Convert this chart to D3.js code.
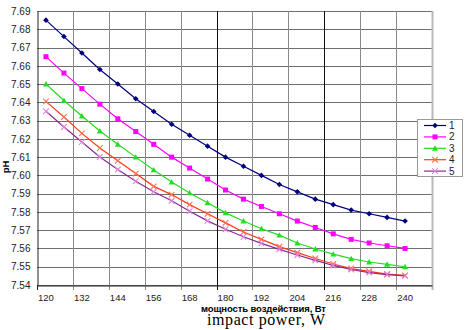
<!DOCTYPE html>
<html>
<head>
<meta charset="utf-8">
<script src="https://cdn.jsdelivr.net/npm/d3@7"></script>
<style>
  body { margin: 0; background: #fff; }
  svg { display: block; font-family: "Liberation Sans", Arial, sans-serif; }
</style>
</head>
<body>
<svg width="465" height="330"></svg>
<script>
// categories on the x axis (last slot is empty, as in the original)
const categories = [120, 126, 132, 138, 144, 150, 156, 162, 168, 174, 180,
    186, 192, 198, 204, 210, 216, 222, 228, 234, 240, 246];
const xValues = [120, 126, 132, 138, 144, 150, 156, 162, 168, 174, 180,
    186, 192, 198, 204, 210, 216, 222, 228, 234, 240];
const xTickLabels = [120, 132, 144, 156, 168, 180, 192, 204, 216, 228, 240];
const yTicks = [7.54, 7.55, 7.56, 7.57, 7.58, 7.59, 7.60, 7.61, 7.62,
    7.63, 7.64, 7.65, 7.66, 7.67, 7.68, 7.69];

const seriesNames = ['1', '2', '3', '4', '5'];
const s1 = [7.685, 7.676, 7.667, 7.658, 7.650, 7.642, 7.635, 7.628, 7.622, 7.616, 7.610,
    7.605, 7.600, 7.595, 7.591, 7.587, 7.584, 7.581, 7.579, 7.577, 7.575];
const s2 = [7.665, 7.656, 7.6475, 7.639, 7.631, 7.624, 7.617, 7.610, 7.604, 7.598, 7.592,
    7.587, 7.583, 7.579, 7.575, 7.5715, 7.568, 7.565, 7.563, 7.5615, 7.560];
const s3 = [7.650, 7.641, 7.6325, 7.6243, 7.617, 7.610, 7.603, 7.5964, 7.5904, 7.585, 7.5795,
    7.575, 7.5708, 7.5673, 7.563, 7.5597, 7.5569, 7.5544, 7.5526, 7.5513, 7.550];
const s4 = [7.6405, 7.632, 7.623, 7.615, 7.608, 7.601, 7.594, 7.5895, 7.584, 7.579, 7.574,
    7.569, 7.565, 7.561, 7.5577, 7.5545, 7.5515, 7.549, 7.5475, 7.546, 7.5453];
const s5 = [7.6351, 7.6265, 7.6183, 7.6101, 7.6032, 7.5968, 7.591, 7.5861, 7.5804, 7.5751, 7.5705,
    7.5664, 7.5628, 7.5595, 7.5564, 7.5535, 7.5507, 7.5485, 7.5468, 7.5457, 7.545];

const lineColors = ['#000080', '#ff00ff', '#22dd22', '#ff3b1a', '#8a2a90'];
const markerColors = ['#000080', '#ff00ff', '#22dd22', '#ff7050', '#e080e0'];
const markerTypes = ['diamond', 'square', 'triangle', 'cross', 'cross'];

const svg = d3.select('svg');
const plot = { left: 37, right: 432, top: 11, bottom: 285 };

const xScale = d3.scaleBand()
    .domain(categories)
    .range([plot.left, plot.right]);
const yScale = d3.scaleLinear()
    .domain([7.54, 7.69])
    .range([plot.bottom, plot.top]);
const cx = v => xScale(v) + xScale.bandwidth() / 2;

// Grid
svg.append('g')
    .selectAll('line')
    .data(yTicks)
    .join('line')
    .attr('x1', plot.left).attr('x2', plot.right)
    .attr('y1', d => Math.round(yScale(d)) + 0.5)
    .attr('y2', d => Math.round(yScale(d)) + 0.5)
    .attr('stroke', '#6f6f6f');
svg.append('g')
    .selectAll('line')
    .data(xTickLabels.slice(1))
    .join('line')
    .attr('x1', d => Math.round(xScale(d)) + 0.5)
    .attr('x2', d => Math.round(xScale(d)) + 0.5)
    .attr('y1', plot.top).attr('y2', plot.bottom + 5)
    .attr('stroke', d => (d === 180 || d === 216) ? '#111' : '#8a8a8a');

// plot area right border
svg.append('line')
    .attr('x1', plot.right + 0.5).attr('x2', plot.right + 0.5)
    .attr('y1', plot.top).attr('y2', plot.bottom + 5)
    .attr('stroke', '#b8b8b8')
    .attr('stroke-width', 2);

// Axes
const xAxis = d3.axisBottom(xScale).tickValues(xTickLabels).tickSize(0).tickPadding(9);
const gx = svg.append('g')
    .attr('transform', `translate(0, ${plot.bottom + 0.5})`)
    .call(xAxis);
gx.select('.domain').attr('stroke', '#222');
gx.selectAll('text')
    .style('font-size', '9.5px')
    .attr('fill', '#222');
svg.append('line')
    .attr('x1', plot.left + 0.5).attr('x2', plot.left + 0.5)
    .attr('y1', plot.bottom).attr('y2', plot.bottom + 5)
    .attr('stroke', '#222');

const yAxis = d3.axisLeft(yScale).tickValues(yTicks).tickSize(0).tickPadding(7)
    .tickFormat(d3.format('.2f'));
const gy = svg.append('g')
    .attr('transform', `translate(${plot.left + 0.5}, 0)`)
    .call(yAxis);
gy.select('.domain').attr('stroke', '#222');
gy.selectAll('text')
    .style('font-size', '10px')
    .attr('fill', '#222');

// Markers
function marker(g, type, color) {
    if (type === 'diamond') {
        g.append('path').attr('d', 'M0,-2.8L2.8,0L0,2.8L-2.8,0Z').attr('fill', color);
    } else if (type === 'square') {
        g.append('rect').attr('x', -2.5).attr('y', -2.5).attr('width', 5).attr('height', 5).attr('fill', color);
    } else if (type === 'triangle') {
        g.append('path').attr('d', 'M0,-3L3,2.4L-3,2.4Z').attr('fill', color);
    } else {
        g.append('path').attr('d', 'M-2.8,-2.8L2.8,2.8M-2.8,2.8L2.8,-2.8')
            .attr('stroke', color).attr('stroke-width', 1.1).attr('fill', 'none');
    }
}

const allSeries = [s1, s2, s3, s4, s5];
const line = d3.line()
    .x((d, i) => cx(xValues[i]))
    .y(d => yScale(d));

allSeries.forEach((values, k) => {
    svg.append('path')
        .datum(values)
        .attr('d', line)
        .attr('fill', 'none')
        .attr('stroke', lineColors[k])
        .attr('stroke-width', 1.2);
    values.forEach((v, i) => {
        const g = svg.append('g')
            .attr('transform', `translate(${cx(xValues[i])}, ${yScale(v)})`);
        marker(g, markerTypes[k], markerColors[k]);
    });
});

// Legend
const legend = svg.append('g');
legend.append('rect')
    .attr('x', 417.5).attr('y', 119.5)
    .attr('width', 45).attr('height', 57)
    .attr('fill', '#fff')
    .attr('stroke', '#9a9a9a');
seriesNames.forEach((name, k) => {
    const y = 125.5 + k * 11.4;
    legend.append('line')
        .attr('x1', 424).attr('x2', 446)
        .attr('y1', y).attr('y2', y)
        .attr('stroke', lineColors[k])
        .attr('stroke-width', 1.2);
    marker(legend.append('g').attr('transform', `translate(435, ${y})`), markerTypes[k], markerColors[k]);
    legend.append('text')
        .text(name)
        .attr('x', 449)
        .attr('y', y + 3.5)
        .style('font-size', '10px')
        .attr('fill', '#222');
});

// Labels
svg.append('text')
    .text('pH')
    .attr('transform', 'translate(9, 167) rotate(-90)')
    .style('text-anchor', 'middle')
    .style('font-size', '9.5px')
    .style('font-weight', 'bold');
svg.append('text')
    .text('мощность воздействия, Вт')
    .attr('x', 201)
    .attr('y', 311.5)
    .attr('textLength', 125)
    .style('font-size', '9.5px')
    .style('font-weight', 'bold');
svg.append('text')
    .text('impact power, W')
    .attr('x', 207)
    .attr('y', 325)
    .attr('textLength', 118)
    .style('font-family', '"Liberation Serif", "Times New Roman", serif')
    .style('font-size', '16px');
</script>
</body>
</html>
